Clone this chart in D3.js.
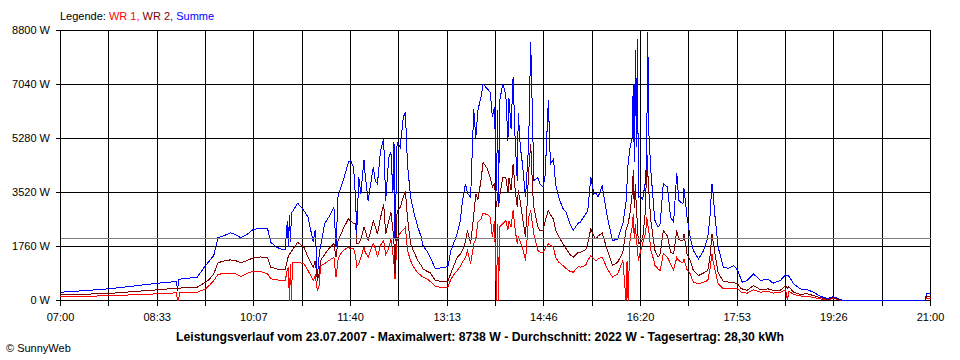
<!DOCTYPE html>
<html><head><meta charset="utf-8">
<script src="https://cdn.jsdelivr.net/npm/d3@7"></script>
<style>
html,body{margin:0;padding:0;background:#fff;}
svg{display:block;font-family:"Liberation Sans",Arial,sans-serif;}
</style></head>
<body><svg id="c" width="960" height="360"></svg>
<script>
// minutes after 07:00
const minutes = [0,23,46,70,94,112,113,114,115,132,140,144,148,152,157,164,169,174,180,186,193,200,203,208,212,217,219,220,221,222,223,224,229,235,239,244,246,248,250,251,255,259,264,266,268,270,273,278,280,283,285,286,288,290,293,294,297,299,302,304,306,309,312,314,317,319,321,322,323,325,328,331,333,335,338,341,345,348,350,354,357,362,367,374,377,380,383,386,388,391,393,396,399,401,403,406,408,412,415,417,419,421,422,423,424,427,430,432,433,435,437,439,441,442,444,446,449,452,454,456,457,461,463,466,468,471,473,476,478,481,485,488,492,495,500,502,507,509,512,515,517,519,523,528,533,538,543,546,547,548,550,552,553,554,555,556,557,558,560,562,565,566,567,568,570,573,574,577,579,582,586,589,592,595,597,599,601,602,605,608,611,616,621,625,627,629,630,632,635,640,645,650,654,657,658,663,669,676,683,688,695,700,702,703,708,714,721,727,734,741,746,753,756,835,836,840];
const summe = [270,320,380,470,565,620,300,690,695,760,1140,1300,1467,2043,2100,2206,2150,2043,2150,2314,2360,2337,1900,1750,1685,1652,2600,1750,2800,1900,2850,2900,3171,2933,2716,1900,2300,760,1600,1737,2500,2716,3041,1737,3422,3600,3911,4507,4563,4345,3259,2180,4019,3476,4585,4150,3259,3700,4345,3900,3802,4888,5269,3259,4670,4834,3500,5160,1955,5160,4997,5975,6138,4454,3367,2900,2390,2100,1792,1600,1412,1032,1064,1100,1630,1900,2173,2600,3205,3802,3500,3367,6247,5300,6200,6626,7062,6900,6789,5975,6300,3585,6200,3150,6500,7062,6700,5214,6600,5600,7279,5214,3911,6100,5000,4454,3367,5100,8418,5500,3911,4000,3802,3693,4100,6518,4454,4600,3802,3367,3000,2878,2500,2281,2530,2552,2825,2900,4019,3476,3500,3367,3748,2716,1955,2000,2500,3205,3800,4454,5000,5323,7062,4500,8148,5000,8529,3367,3400,3300,3911,5000,8738,5500,4237,2933,2607,2390,2500,3802,3700,2716,2552,4160,3259,3200,3150,3650,2700,2064,1630,1358,1630,2064,2700,3802,3500,2716,1737,1086,1050,1140,978,700,597,650,869,650,700,565,650,840,800,800,543,380,350,270,130,65,130,30,0,0,240,240];
const wr2 = [185,205,228,290,348,402,402,405,405,435,597,700,869,1228,1280,1325,1300,1228,1300,1390,1420,1390,1086,1040,1000,1000,1300,1450,1500,1550,1600,1650,1900,1737,1412,1086,1300,652,900,1300,1500,1685,1850,1412,1950,2100,2337,2662,2600,2500,2500,1850,1850,2000,2390,2300,1955,2200,2600,2400,2173,2700,3150,2173,2600,2878,2300,1847,869,2900,3041,3367,3580,2700,1847,1600,1304,1150,1032,950,900,652,630,630,900,1150,1412,1500,1630,1900,2281,1847,2800,3476,3300,3911,4507,4300,4000,3700,3800,3041,3500,3041,3400,4000,4000,3500,4000,3600,4454,3600,3041,3585,3200,2716,2064,4200,5106,3500,3041,2390,2281,2281,2600,2933,2800,2650,2281,2100,1847,1700,1500,1412,1580,1575,1650,1850,2337,2100,2000,2100,2200,1630,1140,1250,1580,2281,2400,2500,2878,3500,4237,3000,3800,3000,2500,1850,1900,2000,3000,4997,4200,3580,2600,1850,1630,1412,1520,2280,2100,1580,1520,2280,2000,1950,1950,2170,1500,1304,978,815,900,978,1400,2170,1950,1500,900,620,600,580,543,380,380,330,489,350,380,330,340,470,400,450,270,200,220,160,90,30,100,0,0,0,130,130];
const wr1 = [130,140,152,185,218,250,0,0,255,270,380,500,652,847,880,890,870,780,880,955,950,870,706,680,652,652,1000,1100,0,1200,0,1250,1250,1200,978,650,800,326,500,1140,1200,1300,1412,760,1330,1500,1630,1737,1685,1700,1412,1100,1200,1400,1737,1600,1400,1600,1850,1700,1412,1800,1955,1500,1700,2010,1500,1195,700,2000,2200,2300,2390,1630,1300,1086,900,815,760,700,620,456,430,430,700,850,978,1100,1250,1400,1630,1195,1850,2000,2552,2650,2846,2800,2716,2064,2600,0,2500,0,2400,2500,2600,2300,2600,2400,2933,2300,1847,2100,1900,1740,1304,2716,2933,2400,2173,1630,1580,1580,1700,1847,1800,1740,1412,1250,1140,1050,950,923,1100,1086,1140,1300,1467,1350,1300,1350,1412,1032,760,870,1300,0,1300,0,2064,2400,2825,2000,2500,2000,1700,1300,1600,1850,2200,2716,2500,2281,1630,1300,1140,1032,978,1520,1412,1195,1000,1400,1300,1250,1250,1350,1000,870,597,543,600,652,1000,1520,1300,1000,543,380,400,400,380,270,270,240,350,270,300,240,270,350,0,300,196,150,130,100,50,20,80,0,0,0,80,80];

const yTickValues = [0,1760,3520,5280,7040,8800];
const yTickLabels = ["0 W","1760 W","3520 W","5280 W","7040 W","8800 W"];
const xTickLabels = ["07:00","08:33","10:07","11:40","13:13","14:46","16:20","17:53","19:26","21:00"];
const average = 2022;
const legendParts = [["Legende: ","#000"],["WR 1,","#ff0000"],[" WR 2,","#800000"],[" Summe","#0000ff"]];
const title = "Leistungsverlauf vom 23.07.2007 - Maximalwert: 8738 W - Durchschnitt: 2022 W - Tagesertrag: 28,30 kWh";
const copyright = "© SunnyWeb";

if (summe.length!==minutes.length || wr1.length!==minutes.length || wr2.length!==minutes.length) {
  throw new Error("length mismatch " + minutes.length + " " + summe.length + " " + wr2.length + " " + wr1.length);
}

const svg = d3.select("#c");
const L=60, R=930, T=30, B=300;
const x = d3.scaleLinear().domain([0,840]).range([L,R]);
const y = d3.scaleLinear().domain([0,8800]).range([B,T]);
const g = svg.append("g").attr("transform","translate(0.5,0.5)");

// grid
const xGrid = d3.range(19).map(i=>i*840/18);
g.selectAll(".vg").data(xGrid).enter().append("line")
  .attr("x1",d=>Math.round(x(d))).attr("x2",d=>Math.round(x(d)))
  .attr("y1",T).attr("y2",B+5).attr("stroke","#000").attr("shape-rendering","crispEdges");
g.selectAll(".hg").data(yTickValues).enter().append("line")
  .attr("x1",L-5).attr("x2",R).attr("y1",d=>Math.round(y(d))).attr("y2",d=>Math.round(y(d)))
  .attr("stroke","#000").attr("shape-rendering","crispEdges");

// series
const line = arr => d3.line().x((d,i)=>x(minutes[i])).y(d=>y(d))(arr);
[[wr1,"#ff0000"],[wr2,"#800000"],[summe,"#0000ff"]].forEach(([arr,c])=>{
  g.append("path").attr("d",line(arr)).attr("fill","none").attr("stroke",c)
   .attr("stroke-width",1).attr("shape-rendering","crispEdges");
});

// average line
g.append("line").attr("x1",L).attr("x2",R).attr("y1",Math.round(y(average))).attr("y2",Math.round(y(average)))
  .attr("stroke","#808080").attr("shape-rendering","crispEdges");

// labels
svg.selectAll(".yl").data(yTickValues).enter().append("text")
  .attr("x",50).attr("y",d=>y(d)+4).attr("text-anchor","end")
  .attr("font-size",11).text((d,i)=>yTickLabels[i]);
svg.selectAll(".xl").data(xTickLabels).enter().append("text")
  .attr("x",(d,i)=>x(i*840/9)+0.5).attr("y",321).attr("text-anchor","middle")
  .attr("font-size",11).text(d=>d);

const lg = svg.append("text").attr("x",60).attr("y",20).attr("font-size",11);
legendParts.forEach(([t,c])=>lg.append("tspan").attr("fill",c).text(t));

svg.append("text").attr("x",480).attr("y",341).attr("text-anchor","middle")
  .attr("font-size",12).attr("font-weight","bold")
  .attr("textLength",608).attr("lengthAdjust","spacingAndGlyphs").text(title);
svg.append("text").attr("x",6).attr("y",352).attr("font-size",11).text(copyright);
</script></body></html>
